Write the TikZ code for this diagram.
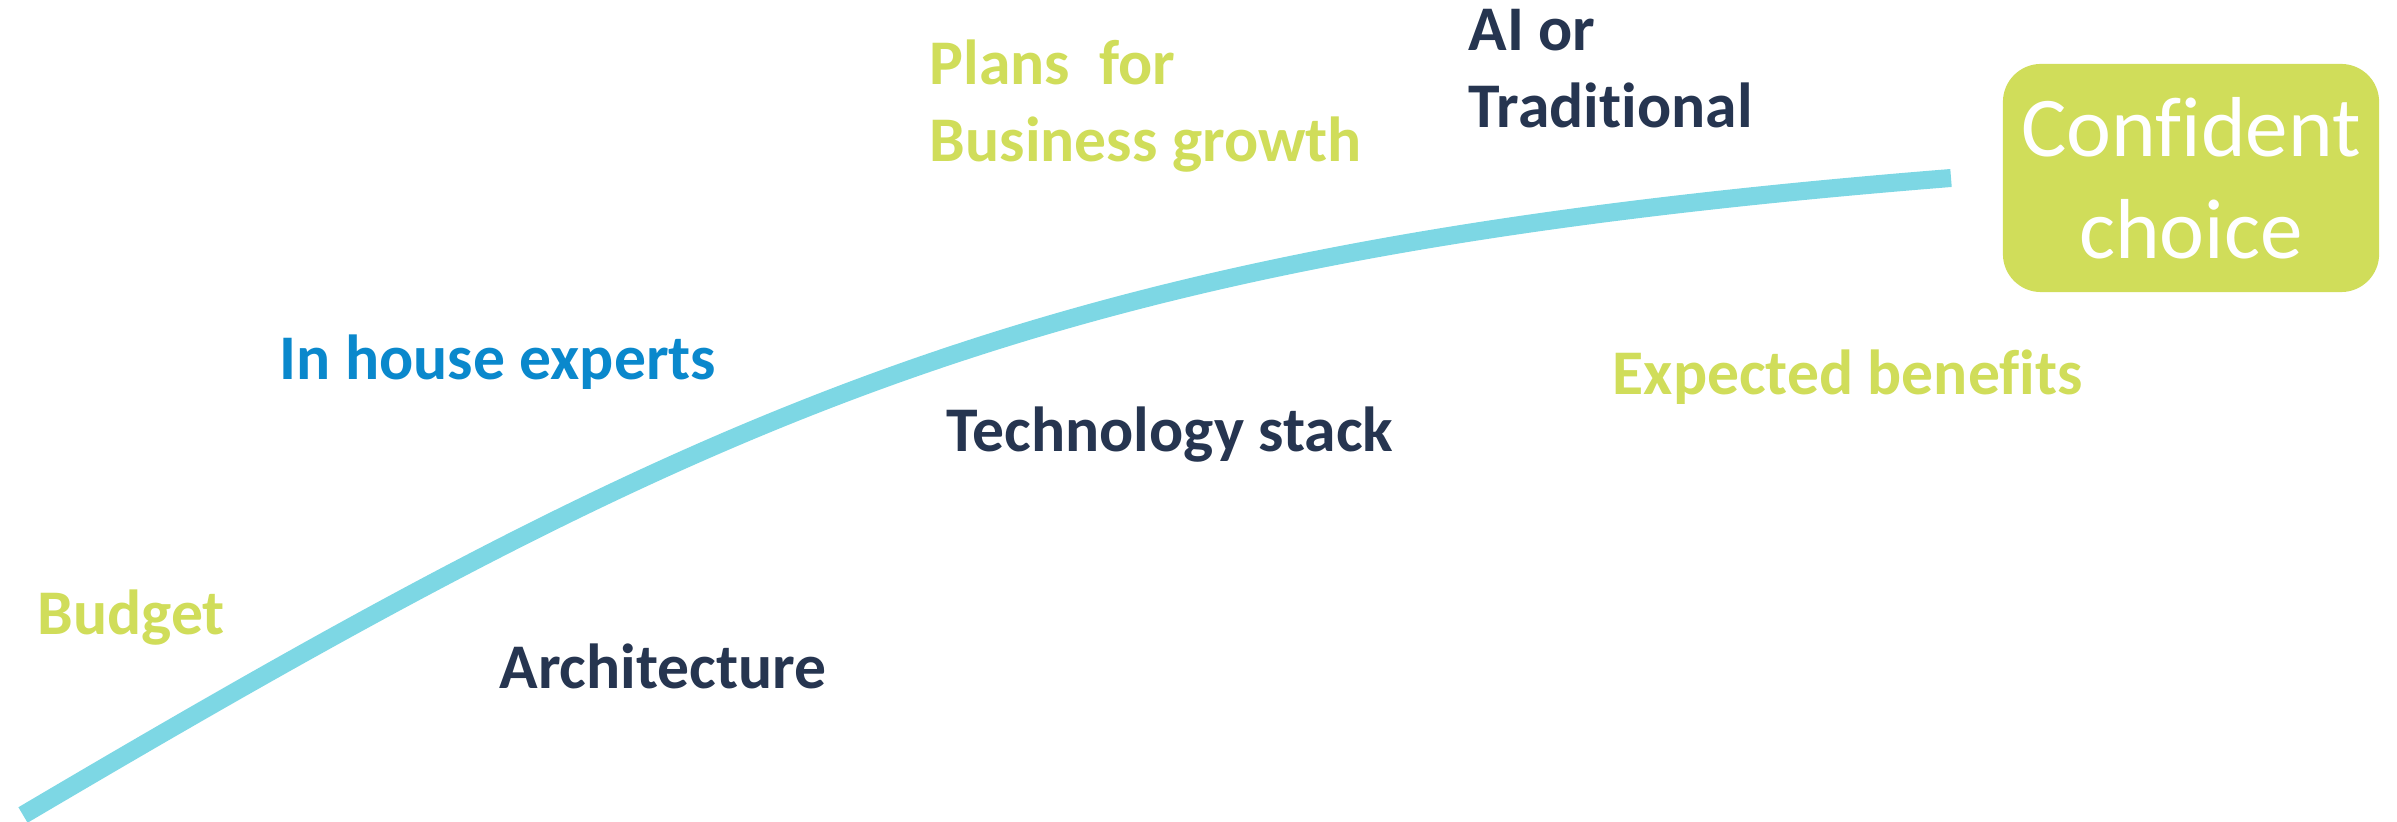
\documentclass[tikz,border=0pt]{standalone}
\usepackage{fontspec}
\setmainfont{Carlito}[Ligatures=CommonOff]
\definecolor{leafgreen}{HTML}{D0DD5A}
\definecolor{pathblue}{HTML}{7DD7E4}
\definecolor{inknavy}{HTML}{263550}
\definecolor{expertblue}{HTML}{0A88CC}
\begin{document}
\begin{tikzpicture}[x=0.01cm, y=-0.01cm,
  tag/.style={anchor=base west, inner sep=0pt, align=left, font=\bfseries\fontsize{18.1}{21.9}\selectfont},
  goal/.style={fill=leafgreen, rounded corners=0.38cm, text=white, align=center,
    font=\fontsize{24.2}{29}\selectfont, minimum width=3.76cm, minimum height=2.28cm}]
\useasboundingbox (0,0) rectangle (2397,822);
% Path to the goal
\coordinate (start) at (23,815);
\node[goal] (choice) at (2191,178) {Confident\\choice};
\coordinate (finish) at (1951,178);
\draw[pathblue, line width=0.18cm] (start) .. controls (723,402) and (1051,250) .. (finish);
% Labels
\node[tag, text=leafgreen] (budget) at (37,635) {Budget};
\node[tag, text=inknavy] (arch) at (499,689) {Architecture};
\node[tag, text=expertblue] (experts) at (279,380) {In house experts};
\node[tag, text=inknavy] (stack) at (946,452) {Technology stack};
\node[tag, text=leafgreen] (plans) at (929,162) {Plans\ \ for\\Business growth};
\node[tag, text=inknavy] (aitrad) at (1468,128) {AI or\\Traditional};
\node[tag, text=leafgreen] (benefits) at (1612,395) {Expected benefits};
\end{tikzpicture}
\end{document}
